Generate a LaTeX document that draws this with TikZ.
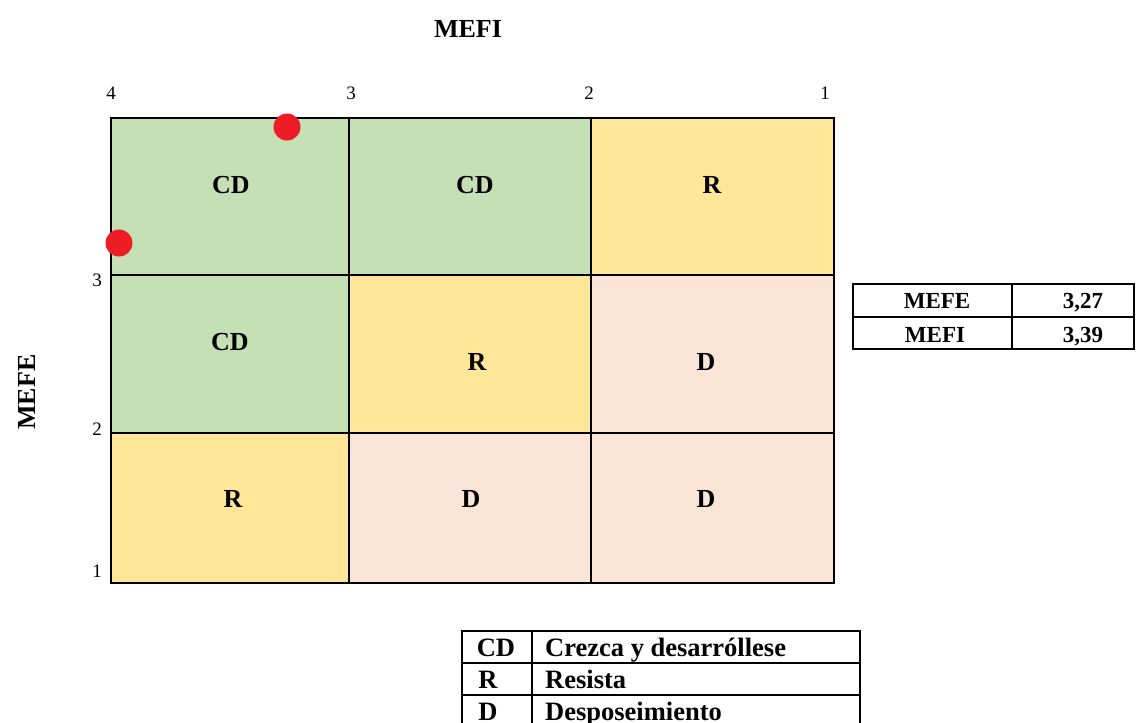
\documentclass[tikz,border=0pt]{standalone}
\usepackage{fontspec}
\setmainfont{Liberation Serif}
\definecolor{cdgreen}{HTML}{C5E0B4}
\definecolor{ryellow}{HTML}{FFE699}
\definecolor{dpeach}{HTML}{FBE5D6}
\definecolor{dotred}{HTML}{EE1C25}
\begin{document}
\begin{tikzpicture}[x=1pt,y=-1pt,
  cell/.style={draw=black,line width=1.6pt,anchor=north west,inner sep=0pt},
  lab/.style={font=\fontsize{26}{28}\selectfont\bfseries,anchor=base,inner sep=0pt},
  axnum/.style={font=\fontsize{19}{21}\selectfont,anchor=base,inner sep=0pt},
  tab/.style={font=\fontsize{23}{25}\selectfont\bfseries,anchor=base,inner sep=0pt},
  leg/.style={font=\fontsize{26.5}{28}\selectfont\bfseries,anchor=base,inner sep=0pt},
  gridline/.style={line width=1.6pt},
  dot/.style={circle,fill=dotred,minimum size=27pt,inner sep=0pt}]
\useasboundingbox (0,0) rectangle (1136,723);
% cells
\node[cell,fill=cdgreen,minimum width=238pt,minimum height=157pt] (c11) at (110,117) {};
\node[cell,fill=cdgreen,minimum width=242pt,minimum height=157pt] (c12) at (348,117) {};
\node[cell,fill=ryellow,minimum width=243pt,minimum height=157pt] (c13) at (590,117) {};
\node[cell,fill=cdgreen,minimum width=238pt,minimum height=158pt] (c21) at (110,274) {};
\node[cell,fill=ryellow,minimum width=242pt,minimum height=158pt] (c22) at (348,274) {};
\node[cell,fill=dpeach,minimum width=243pt,minimum height=158pt] (c23) at (590,274) {};
\node[cell,fill=ryellow,minimum width=238pt,minimum height=150pt] (c31) at (110,432) {};
\node[cell,fill=dpeach,minimum width=242pt,minimum height=150pt] (c32) at (348,432) {};
\node[cell,fill=dpeach,minimum width=243pt,minimum height=150pt] (c33) at (590,432) {};
% cell labels
\node[lab] (l11) at (231,193) {CD};
\node[lab] (l12) at (475,193) {CD};
\node[lab] (l13) at (712,193) {R};
\node[lab] (l21) at (230,350) {CD};
\node[lab] (l22) at (477,370) {R};
\node[lab] (l23) at (706,370) {D};
\node[lab] (l31) at (233,507) {R};
\node[lab] (l32) at (471,507) {D};
\node[lab] (l33) at (706,507) {D};
% axis numbers
\node[axnum] (t4) at (111,99) {4};
\node[axnum] (t3) at (351,99) {3};
\node[axnum] (t2) at (589,99) {2};
\node[axnum] (t1) at (825,99) {1};
\node[axnum] (s3) at (97,286) {3};
\node[axnum] (s2) at (97,435) {2};
\node[axnum] (s1) at (97,577) {1};
% titles
\node[lab] (mefi) at (468,37) {MEFI};
\node[font=\fontsize{26}{28}\selectfont\bfseries,inner sep=0pt,rotate=90] (mefe) at (27,392) {MEFE};
% dots
\node[dot] (p1) at (287,127) {};
\node[dot] (p2) at (119,243) {};
% right table
\draw[gridline] (853,284) rectangle (1134,349);
\draw[gridline] (853,317) -- (1134,317);
\draw[gridline] (1012,284) -- (1012,349);
\node[tab] (ta) at (937,308) {MEFE};
\node[tab] (tb) at (1083,308) {3,27};
\node[tab] (tc) at (935,342) {MEFI};
\node[tab] (td) at (1083,342) {3,39};
% legend
\draw[gridline] (462,723) -- (462,631) -- (860,631) -- (860,723);
\draw[gridline] (462,663) -- (860,663);
\draw[gridline] (462,695) -- (860,695);
\draw[gridline] (532,631) -- (532,723);
\node[leg] (ga) at (496,656) {CD};
\node[leg,anchor=base west] (gb) at (545,656) {Crezca y desarróllese};
\node[leg] (gc) at (488,688) {R};
\node[leg,anchor=base west] (gd) at (545,688) {Resista};
\node[leg] (ge) at (488,720) {D};
\node[leg,anchor=base west] (gf) at (545,720) {Desposeimiento};
\end{tikzpicture}
\end{document}
